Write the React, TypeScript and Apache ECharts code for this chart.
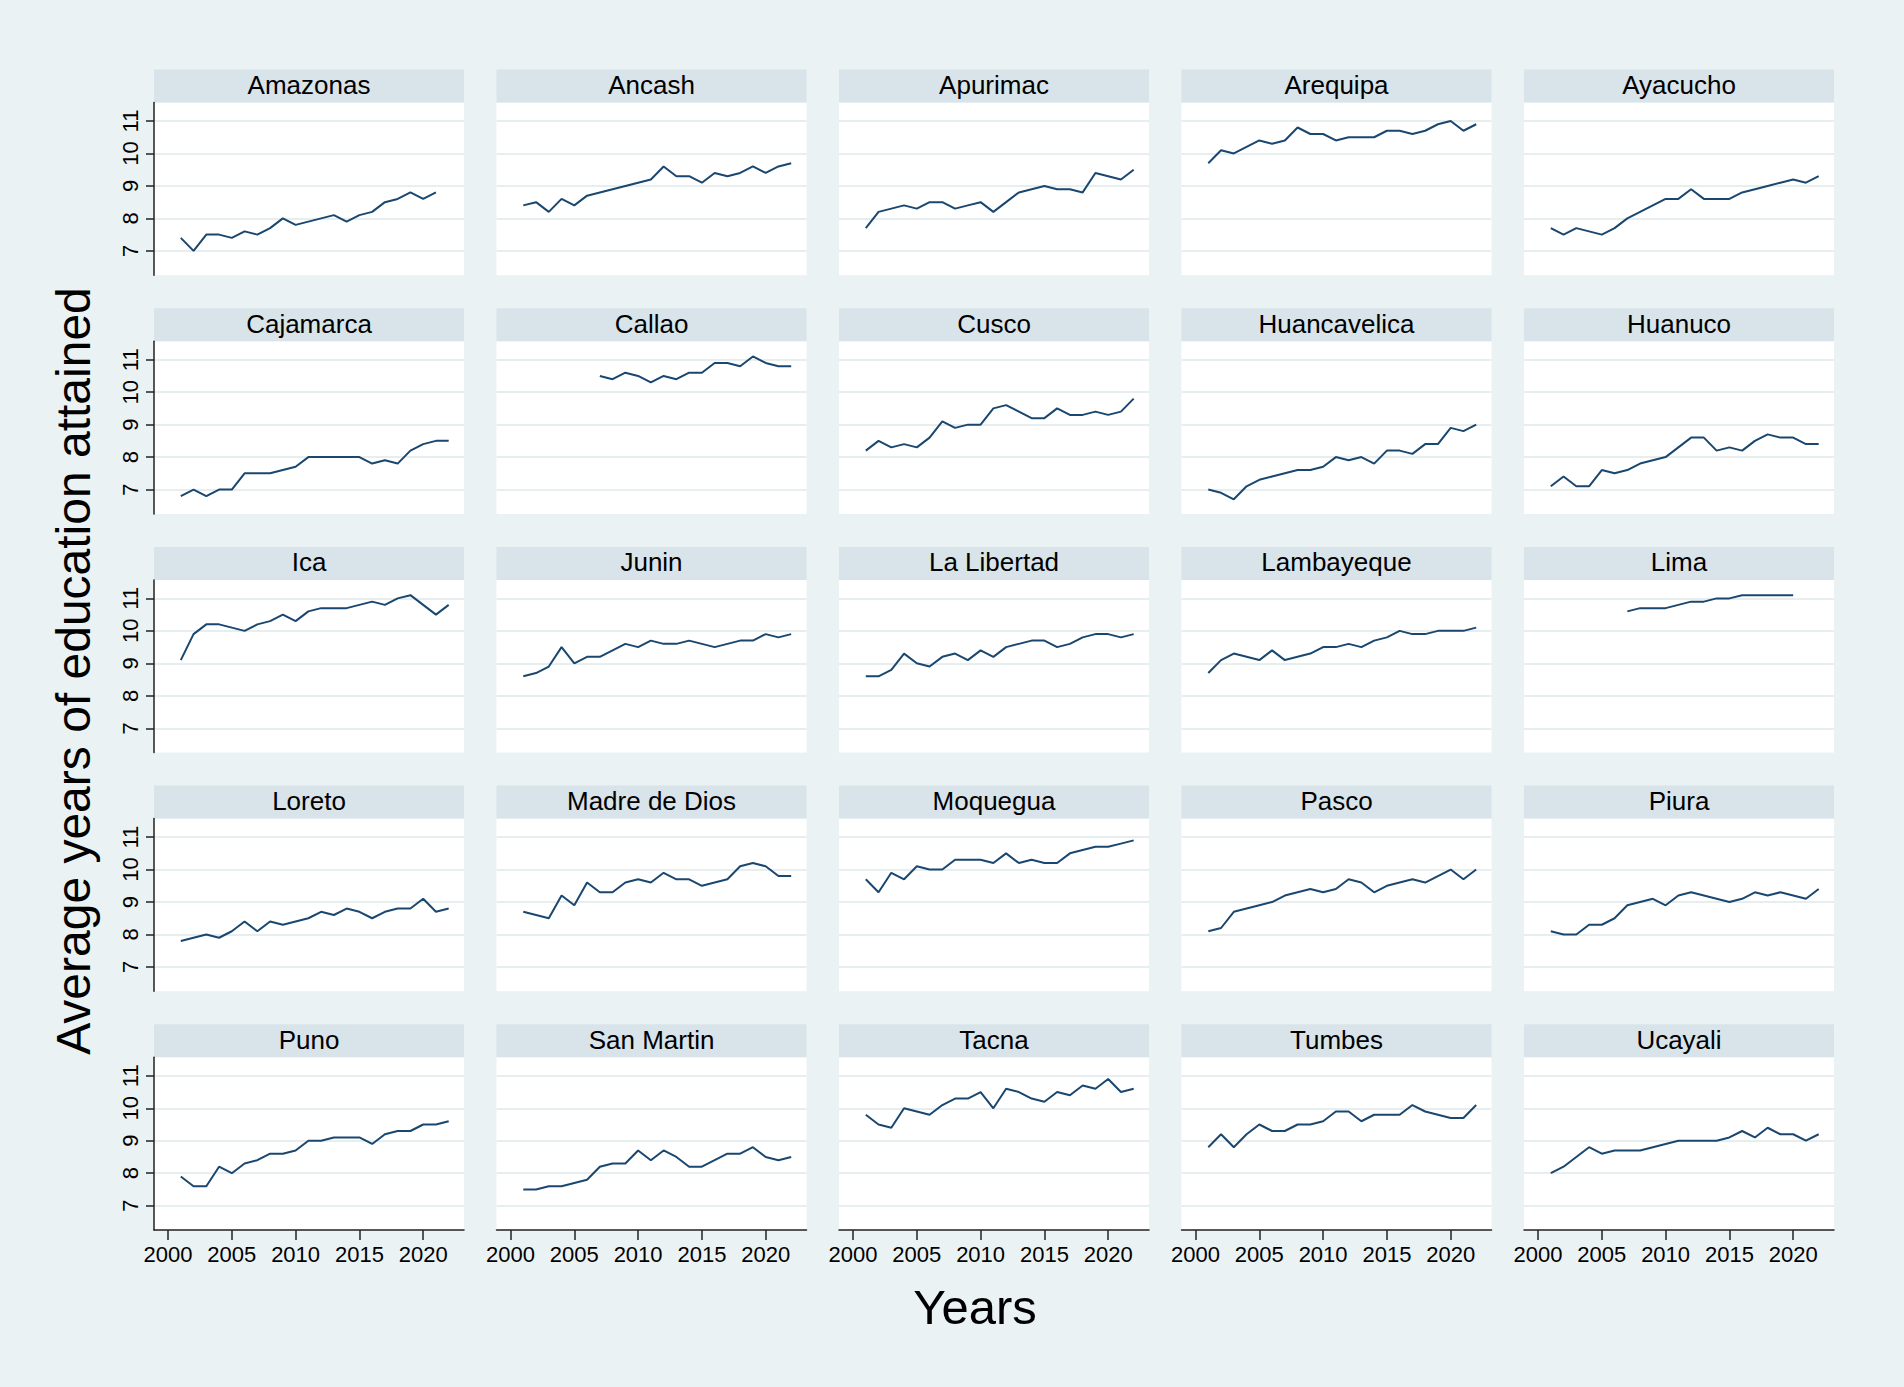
import React, { useEffect, useRef } from "react";
import * as echarts from "echarts";

// ---------- data ----------
const years = [2001, 2002, 2003, 2004, 2005, 2006, 2007, 2008, 2009, 2010, 2011, 2012, 2013, 2014, 2015, 2016, 2017, 2018, 2019, 2020, 2021, 2022];
const xTickLabels = [2000, 2005, 2010, 2015, 2020];
const yTickLabels = [7, 8, 9, 10, 11];

const regions = [
  "Amazonas", "Ancash", "Apurimac", "Arequipa", "Ayacucho",
  "Cajamarca", "Callao", "Cusco", "Huancavelica", "Huanuco",
  "Ica", "Junin", "La Libertad", "Lambayeque", "Lima",
  "Loreto", "Madre de Dios", "Moquegua", "Pasco", "Piura",
  "Puno", "San Martin", "Tacna", "Tumbes", "Ucayali",
];

const amazonas = [7.4, 7.0, 7.5, 7.5, 7.4, 7.6, 7.5, 7.7, 8.0, 7.8, 7.9, 8.0, 8.1, 7.9, 8.1, 8.2, 8.5, 8.6, 8.8, 8.6, 8.8, null];
const ancash = [8.4, 8.5, 8.2, 8.6, 8.4, 8.7, null, null, null, null, 9.2, 9.6, 9.3, 9.3, 9.1, 9.4, 9.3, 9.4, 9.6, 9.4, 9.6, 9.7];
const apurimac = [7.7, 8.2, 8.3, 8.4, 8.3, 8.5, 8.5, 8.3, 8.4, 8.5, 8.2, 8.5, 8.8, 8.9, 9.0, 8.9, 8.9, 8.8, 9.4, 9.3, 9.2, 9.5];
const arequipa = [9.7, 10.1, 10.0, 10.2, 10.4, 10.3, 10.4, 10.8, 10.6, 10.6, 10.4, 10.5, 10.5, 10.5, 10.7, 10.7, 10.6, 10.7, 10.9, 11.0, 10.7, 10.9];
const ayacucho = [7.7, 7.5, 7.7, 7.6, 7.5, 7.7, 8.0, 8.2, 8.4, 8.6, 8.6, 8.9, 8.6, 8.6, 8.6, 8.8, 8.9, 9.0, 9.1, 9.2, 9.1, 9.3];
const cajamarca = [6.8, 7.0, 6.8, 7.0, 7.0, 7.5, 7.5, 7.5, 7.6, 7.7, 8.0, 8.0, 8.0, 8.0, 8.0, 7.8, 7.9, 7.8, 8.2, 8.4, 8.5, 8.5];
const callao = [null, null, null, null, null, null, 10.5, 10.4, 10.6, 10.5, 10.3, 10.5, 10.4, 10.6, 10.6, 10.9, 10.9, 10.8, 11.1, 10.9, 10.8, 10.8];
const cusco = [8.2, 8.5, 8.3, 8.4, 8.3, 8.6, 9.1, 8.9, 9.0, 9.0, 9.5, 9.6, 9.4, 9.2, 9.2, 9.5, 9.3, 9.3, 9.4, 9.3, 9.4, 9.8];
const huancavelica = [7.0, 6.9, 6.7, 7.1, 7.3, 7.4, 7.5, 7.6, 7.6, 7.7, 8.0, 7.9, 8.0, 7.8, 8.2, 8.2, 8.1, 8.4, 8.4, 8.9, 8.8, 9.0];
const huanuco = [7.1, 7.4, 7.1, 7.1, 7.6, 7.5, 7.6, 7.8, 7.9, 8.0, 8.3, 8.6, 8.6, 8.2, 8.3, 8.2, 8.5, 8.7, 8.6, 8.6, 8.4, 8.4];
const ica = [9.1, 9.9, 10.2, 10.2, 10.1, 10.0, 10.2, 10.3, 10.5, 10.3, 10.6, 10.7, 10.7, 10.7, 10.8, 10.9, 10.8, 11.0, 11.1, 10.8, 10.5, 10.8];
const junin = [8.6, 8.7, 8.9, 9.5, 9.0, 9.2, 9.2, 9.4, 9.6, 9.5, 9.7, 9.6, 9.6, 9.7, 9.6, 9.5, 9.6, 9.7, 9.7, 9.9, 9.8, 9.9];
const laLibertad = [8.6, 8.6, 8.8, 9.3, 9.0, 8.9, 9.2, 9.3, 9.1, 9.4, 9.2, 9.5, 9.6, 9.7, 9.7, 9.5, 9.6, 9.8, 9.9, 9.9, 9.8, 9.9];
const lambayeque = [8.7, 9.1, 9.3, 9.2, 9.1, 9.4, 9.1, 9.2, 9.3, 9.5, 9.5, 9.6, 9.5, 9.7, 9.8, 10.0, 9.9, 9.9, 10.0, 10.0, 10.0, 10.1];
const lima = [null, null, null, null, null, null, 10.6, 10.7, 10.7, 10.7, 10.8, 10.9, 10.9, 11.0, 11.0, 11.1, 11.1, 11.1, 11.1, 11.1, null, null];
const loreto = [7.8, 7.9, 8.0, 7.9, 8.1, 8.4, 8.1, 8.4, 8.3, 8.4, 8.5, 8.7, 8.6, 8.8, 8.7, 8.5, 8.7, 8.8, 8.8, 9.1, 8.7, 8.8];
const madreDeDios = [8.7, 8.6, 8.5, 9.2, 8.9, 9.6, 9.3, 9.3, 9.6, 9.7, 9.6, 9.9, 9.7, 9.7, 9.5, 9.6, 9.7, 10.1, 10.2, 10.1, 9.8, 9.8];
const moquegua = [9.7, 9.3, 9.9, 9.7, 10.1, 10.0, 10.0, 10.3, 10.3, 10.3, 10.2, 10.5, 10.2, 10.3, 10.2, 10.2, 10.5, 10.6, 10.7, 10.7, 10.8, 10.9];
const pasco = [8.1, 8.2, 8.7, 8.8, 8.9, 9.0, 9.2, 9.3, 9.4, 9.3, 9.4, 9.7, 9.6, 9.3, 9.5, 9.6, 9.7, 9.6, 9.8, 10.0, 9.7, 10.0];
const piura = [8.1, 8.0, 8.0, 8.3, 8.3, 8.5, 8.9, 9.0, 9.1, 8.9, 9.2, 9.3, 9.2, 9.1, 9.0, 9.1, 9.3, 9.2, 9.3, 9.2, 9.1, 9.4];
const puno = [7.9, 7.6, 7.6, 8.2, 8.0, 8.3, 8.4, 8.6, 8.6, 8.7, 9.0, 9.0, 9.1, 9.1, 9.1, 8.9, 9.2, 9.3, 9.3, 9.5, 9.5, 9.6];
const sanMartin = [7.5, 7.5, 7.6, 7.6, 7.7, 7.8, 8.2, 8.3, 8.3, 8.7, 8.4, 8.7, 8.5, 8.2, 8.2, 8.4, 8.6, 8.6, 8.8, 8.5, 8.4, 8.5];
const tacna = [9.8, 9.5, 9.4, 10.0, 9.9, 9.8, 10.1, 10.3, 10.3, 10.5, 10.0, 10.6, 10.5, 10.3, 10.2, 10.5, 10.4, 10.7, 10.6, 10.9, 10.5, 10.6];
const tumbes = [8.8, 9.2, 8.8, 9.2, 9.5, 9.3, 9.3, 9.5, 9.5, 9.6, 9.9, 9.9, 9.6, 9.8, 9.8, 9.8, 10.1, 9.9, 9.8, 9.7, 9.7, 10.1];
const ucayali = [8.0, 8.2, 8.5, 8.8, 8.6, 8.7, 8.7, 8.7, 8.8, 8.9, 9.0, 9.0, 9.0, 9.0, 9.1, 9.3, 9.1, 9.4, 9.2, 9.2, 9.0, 9.2];

const seriesValues = [
  amazonas, ancash, apurimac, arequipa, ayacucho,
  cajamarca, callao, cusco, huancavelica, huanuco,
  ica, junin, laLibertad, lambayeque, lima,
  loreto, madreDeDios, moquegua, pasco, piura,
  puno, sanMartin, tacna, tumbes, ucayali,
];

const yTitle = "Average years of education attained";
const xTitle = "Years";

// ---------- layout / style ----------
const W = 1904;
const H = 1387;
const COLS = 5;
const COL_LEFT0 = 154;
const COL_PITCH = 342.5;
const PLOT_W = 310;
const ROW_TOP0 = 69.5;
const ROW_PITCH = 238.7;
const STRIP_H = 33;
const PLOT_H = 172.7;
const X_MIN = 1998.9;
const X_MAX = 2023.2;
const Y_MIN = 6.25;
const Y_MAX = 11.57;

const FONT = '"Liberation Sans", Arial, Helvetica, sans-serif';
const BG = "#eaf2f3";
const STRIP = "#d8e4ea";
const GRIDLINE = "#e6eef0";
const LINE = "#1a476f";
const AXIS = "#222222";

export default function App() {
  const ref = useRef<HTMLDivElement>(null);

  useEffect(() => {
    document.body.style.margin = "0";
    if (!ref.current) return;
    const chart = echarts.init(ref.current, null, { renderer: "svg" });

    const n = regions.length;
    const rows = Math.ceil(n / COLS);
    const grids: any[] = [];
    const xAxes: any[] = [];
    const yAxes: any[] = [];
    const series: any[] = [];
    const graphics: any[] = [];

    for (let i = 0; i < n; i++) {
      const r = Math.floor(i / COLS);
      const c = i % COLS;
      const left = COL_LEFT0 + c * COL_PITCH;
      const stripTop = ROW_TOP0 + r * ROW_PITCH;
      const top = stripTop + STRIP_H;
      const isBottom = r === rows - 1;
      const isLeft = c === 0;

      grids.push({
        left,
        top,
        width: PLOT_W,
        height: PLOT_H,
        show: true,
        backgroundColor: "#ffffff",
        borderWidth: 0,
        containLabel: false,
        outerBoundsMode: "none",
      });

      xAxes.push({
        gridIndex: i,
        type: "value",
        min: X_MIN,
        max: X_MAX,
        axisLine: { show: isBottom, onZero: false, lineStyle: { color: AXIS, width: 1.5 } },
        axisTick: { show: isBottom, length: 10, customValues: xTickLabels, lineStyle: { color: AXIS, width: 1.5 } },
        axisLabel: {
          show: isBottom,
          customValues: xTickLabels,
          formatter: (v: number) => String(Math.round(v)),
          fontSize: 22,
          fontFamily: FONT,
          color: "#000",
          margin: 13,
        },
        splitLine: { show: false },
      });

      yAxes.push({
        gridIndex: i,
        type: "value",
        min: Y_MIN,
        max: Y_MAX,
        axisLine: { show: isLeft, onZero: false, lineStyle: { color: AXIS, width: 1.5 } },
        axisTick: { show: isLeft, length: 8, customValues: yTickLabels, lineStyle: { color: AXIS, width: 1.5 } },
        axisLabel: {
          show: isLeft,
          customValues: yTickLabels,
          formatter: (v: number) => String(Math.round(v)),
          rotate: 90,
          fontSize: 22,
          fontFamily: FONT,
          color: "#000",
          margin: 13,
        },
        splitLine: { show: true, lineStyle: { color: GRIDLINE, width: 2 } },
      });

      const vals = seriesValues[i];
      series.push({
        type: "line",
        name: regions[i],
        xAxisIndex: i,
        yAxisIndex: i,
        data: years.map((y, j) => [y, vals[j] == null ? "-" : vals[j]]),
        connectNulls: true,
        showSymbol: false,
        symbol: "none",
        lineStyle: { color: LINE, width: 2 },
        z: 3,
      });

      graphics.push({
        type: "rect",
        shape: { x: left, y: stripTop, width: PLOT_W, height: STRIP_H },
        style: { fill: STRIP },
        silent: true,
      });
      graphics.push({
        type: "text",
        x: left + PLOT_W / 2,
        y: stripTop + STRIP_H / 2 - 1,
        style: {
          text: regions[i],
          fontSize: 26,
          fontFamily: FONT,
          fill: "#000",
          align: "center",
          verticalAlign: "middle",
          textAlign: "center",
          textVerticalAlign: "middle",
        },
        silent: true,
      });
    }

    graphics.push({
      type: "text",
      x: 73,
      y: 671,
      rotation: Math.PI / 2,
      style: {
        text: yTitle,
        fontSize: 48,
        fontFamily: FONT,
        fill: "#000",
        align: "center",
        verticalAlign: "middle",
        textAlign: "center",
        textVerticalAlign: "middle",
      },
      silent: true,
    });
    graphics.push({
      type: "text",
      x: 975,
      y: 1307,
      style: {
        text: xTitle,
        fontSize: 49,
        fontFamily: FONT,
        fill: "#000",
        align: "center",
        verticalAlign: "middle",
        textAlign: "center",
        textVerticalAlign: "middle",
      },
      silent: true,
    });

    chart.setOption({
      animation: false,
      backgroundColor: BG,
      grid: grids,
      xAxis: xAxes,
      yAxis: yAxes,
      series,
      graphic: { elements: graphics },
    });

    return () => {
      chart.dispose();
    };
  }, []);

  return <div ref={ref} style={{ width: W, height: H }} />;
}
